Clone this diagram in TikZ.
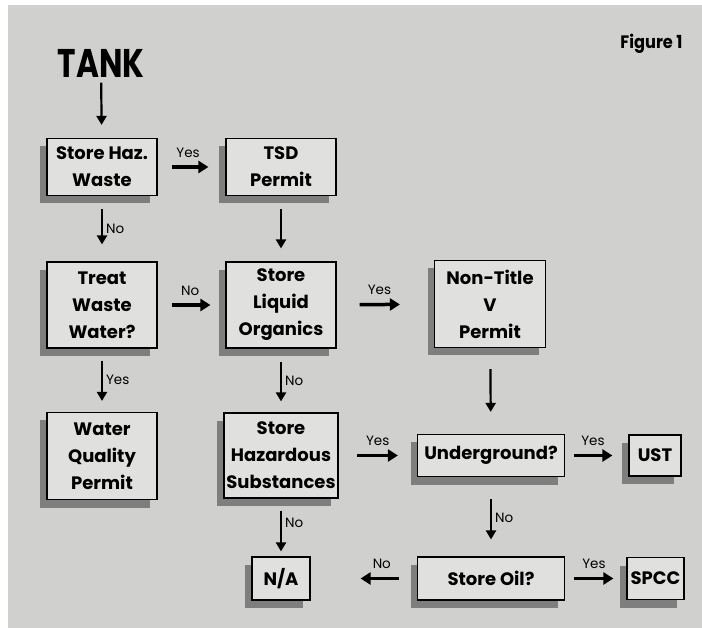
\documentclass[tikz,border=0pt]{standalone}
\usepackage{fontspec}
\setmainfont{Poppins}
\usetikzlibrary{arrows.meta,shadows}

\definecolor{paper}{RGB}{208,208,206}
\definecolor{boxfill}{RGB}{224,224,222}
\definecolor{shade}{RGB}{126,126,126}

\begin{document}
\begin{tikzpicture}[x=1pt, y=-1pt,
    box/.style={draw=black, line width=1.2pt, fill=boxfill, align=center, inner sep=1pt,
        font=\fontsize{18}{27}\selectfont\bfseries,
        drop shadow={shadow xshift=-7pt, shadow yshift=-8pt, fill=shade, opacity=1}},
    flow/.style={-{Triangle[length=9pt,width=10pt]}, line width=2.2pt,
        shorten <=13pt, shorten >=15pt},
    wide/.style={flow, line width=3.5pt, -{Triangle[length=10pt,width=12pt]}},
    lbl/.style={font=\fontsize{13.5}{13.5}\selectfont, inner sep=3pt}]

    % Sfondo grigio della pagina
    \fill[white] (0,0) rectangle (702,628);
    \fill[paper] (8,5) rectangle (702,628);
    \useasboundingbox (0,0) rectangle (702,628);

    % Titoli
    \node (tank) at (101,63) {\fontsize{40}{40}\selectfont\bfseries\scalebox{0.78}[1]{TANK}};
    \node[anchor=east] (fig) at (686,44) {\fontsize{18}{18}\selectfont\bfseries\scalebox{0.9}[1]{Figure 1}};

    % Colonna sinistra
    \node[box, minimum width=110pt, minimum height=57pt] (haz) at (102,167) {Store Haz.\\Waste};
    \node[box, minimum width=110pt, minimum height=86pt] (treat) at (102,305) {Treat\\Waste\\Water?};
    \node[box, minimum width=110pt, minimum height=87pt] (quality) at (102,456) {Water\\Quality\\Permit};

    % Colonna centrale
    \node[box, minimum width=110pt, minimum height=57pt] (tsd) at (281,167) {TSD\\Permit};
    \node[box, minimum width=110pt, minimum height=86pt] (liquid) at (281,305) {Store\\Liquid\\Organics};
    \node[box, minimum width=114pt, minimum height=85pt] (hazsub) at (281,455.5) {Store\\Hazardous\\Substances};
    \node[box, minimum width=58pt, minimum height=43pt] (na) at (281,578.5) {N/A};

    % Colonna destra
    \node[box, minimum width=111pt, minimum height=87pt] (nontitle) at (490,304) {Non-Title\\V\\Permit};
    \node[box, minimum width=147pt, minimum height=42pt] (ground) at (491,455.5) {Underground?};
    \node[box, minimum width=147pt, minimum height=43pt] (oil) at (491,578.5) {Store Oil?};
    \node[box, minimum width=52pt, minimum height=41pt] (ust) at (655,455.5) {UST};
    \node[box, minimum width=57pt, minimum height=42pt] (spcc) at (655.5,578.5) {SPCC};

    % Frecce verticali
    \draw[flow, shorten <=2pt, shorten >=13pt] (tank) -- (haz);
    \draw[flow, shorten >=17pt] (haz) -- node[lbl, right] {No} (treat);
    \draw[flow, shorten >=13pt] (tsd) -- (liquid);
    \draw[flow, shorten <=12pt, shorten >=11pt] (treat) -- node[lbl, right] {Yes} (quality);
    \draw[flow, shorten >=11pt] (liquid) -- node[lbl, right] {No} (hazsub);
    \draw[flow, shorten <=12pt, shorten >=5pt] (hazsub) -- node[lbl, right, pos=0.42] {No} (na);
    \draw[flow, shorten <=21pt, shorten >=22pt] (nontitle) -- (ground);
    \draw[flow, shorten <=22pt, shorten >=17pt] (ground) -- node[lbl, right, pos=0.52] {No} (oil);

    % Frecce orizzontali
    \draw[wide, shorten <=14pt, shorten >=17pt] (haz) -- node[lbl, above=5pt, pos=0.45] {Yes} (tsd);
    \draw[wide, shorten <=14pt, shorten >=15pt] (treat) -- node[lbl, above=5pt, pos=0.48] {No} (liquid);
    \draw[wide, shorten <=23pt, shorten >=34pt] (liquid) -- node[lbl, above=5pt, pos=0.44] {Yes} (nontitle);
    \draw[wide, shorten <=18pt, shorten >=19pt] (hazsub) -- node[lbl, above=5pt] {Yes} (ground);
    \draw[wide, shorten <=9pt, shorten >=16pt] (ground) -- node[lbl, above=5pt, pos=0.44] {Yes} (ust);
    \draw[wide, shorten <=9pt, shorten >=13pt] (oil) -- node[lbl, above=5pt, pos=0.47] {Yes} (spcc);
    \draw[wide, shorten <=18pt, shorten >=50pt] (oil) -- node[lbl, above=5pt, pos=0.33] {No} (na);

\end{tikzpicture}
\end{document}
